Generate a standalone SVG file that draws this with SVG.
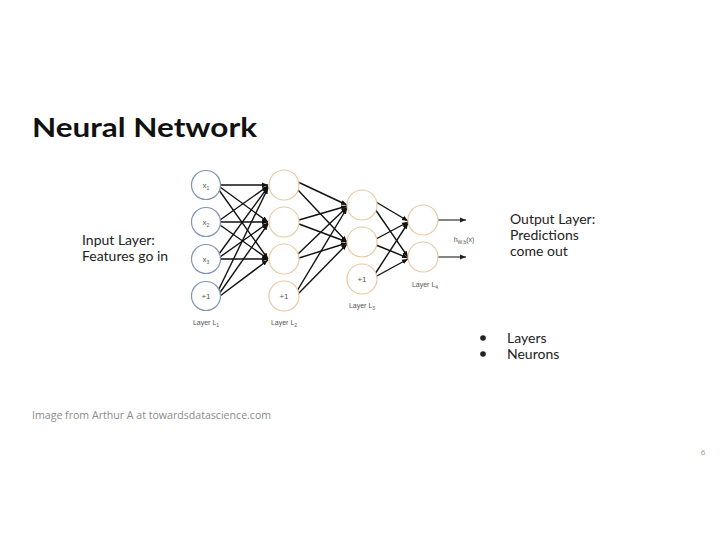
<svg xmlns="http://www.w3.org/2000/svg" width="720" height="540" viewBox="0 0 720 540">
<defs>
<marker id="ah" viewBox="0 0 10 10" refX="10" refY="5" markerWidth="6" markerHeight="6" orient="auto" markerUnits="userSpaceOnUse">
<path d="M0,1 L10,5 L0,9 z" fill="#111"/>
</marker>
<marker id="ao" viewBox="0 0 10 10" refX="10" refY="5" markerWidth="8" markerHeight="6" orient="auto" markerUnits="userSpaceOnUse">
<path d="M0,1 L10,5 L0,9 z" fill="#222"/>
</marker>
</defs>
<style>
.in{fill:#fff;stroke:#7f95b5;stroke-width:1.2}
.hn{fill:#fff;stroke:#e9c9a3;stroke-width:1.2}
.c{stroke:#111;stroke-width:1.4;fill:none;marker-end:url(#ah)}
.o{stroke:#333;stroke-width:1.2;fill:none;marker-end:url(#ao)}
.nl{font-family:"Liberation Sans",Arial,sans-serif;font-size:8px;fill:#555;text-anchor:middle}
.ll{font-family:"Liberation Sans",Arial,sans-serif;font-size:7px;fill:#555;text-anchor:middle}
.t{font-family:Lato,"Liberation Sans",sans-serif;font-size:14px;fill:#222}
</style>
<rect width="720" height="540" fill="#fff"/>
<text x="32" y="137" font-family="Lato,'Liberation Sans',sans-serif" font-weight="bold" font-size="27" fill="#111" textLength="225" lengthAdjust="spacingAndGlyphs">Neural Network</text>
<g id="connectors">
<line class="c" x1="220" y1="185" x2="268" y2="185"/>
<line class="c" x1="220" y1="187" x2="268" y2="222"/>
<line class="c" x1="219" y1="190" x2="268" y2="259"/>
<line class="c" x1="220" y1="220" x2="268" y2="186"/>
<line class="c" x1="220" y1="222" x2="268" y2="222"/>
<line class="c" x1="220" y1="225" x2="268" y2="259"/>
<line class="c" x1="219" y1="254" x2="268" y2="187"/>
<line class="c" x1="220" y1="257" x2="268" y2="223"/>
<line class="c" x1="220" y1="259" x2="268" y2="259"/>
<line class="c" x1="218" y1="291" x2="268" y2="188"/>
<line class="c" x1="219" y1="294" x2="268" y2="224"/>
<line class="c" x1="220" y1="296" x2="268" y2="260"/>
<line class="c" x1="298" y1="182" x2="347" y2="205"/>
<line class="c" x1="297" y1="189" x2="347" y2="242"/>
<line class="c" x1="299" y1="220" x2="347" y2="206"/>
<line class="c" x1="299" y1="224" x2="347" y2="242"/>
<line class="c" x1="298" y1="254" x2="347" y2="207"/>
<line class="c" x1="299" y1="258" x2="347" y2="243"/>
<line class="c" x1="297" y1="291" x2="347" y2="208"/>
<line class="c" x1="298" y1="294" x2="347" y2="244"/>
<line class="c" x1="376" y1="202" x2="408" y2="221"/>
<line class="c" x1="375" y1="209" x2="408" y2="257"/>
<line class="c" x1="376" y1="239" x2="408" y2="222"/>
<line class="c" x1="376" y1="245" x2="408" y2="258"/>
<line class="c" x1="375" y1="274" x2="408" y2="223"/>
<line class="c" x1="375" y1="277" x2="408" y2="259"/>
<line class="o" x1="438" y1="220" x2="466" y2="220"/>
<line class="o" x1="438" y1="257" x2="466" y2="257"/>
</g>
<g id="layer1">
<g id="x1"><circle class="in" cx="206" cy="185" r="14.5"/><text class="nl" x="206" y="188">x<tspan font-size="5" dy="2">1</tspan></text></g>
<g id="x2"><circle class="in" cx="206" cy="222" r="14.5"/><text class="nl" x="206" y="225">x<tspan font-size="5" dy="2">2</tspan></text></g>
<g id="x3"><circle class="in" cx="206" cy="259" r="14.5"/><text class="nl" x="206" y="262">x<tspan font-size="5" dy="2">3</tspan></text></g>
<g id="b1"><circle class="in" cx="206" cy="296" r="14.5"/><text class="nl" x="206" y="299">+1</text></g>
<text class="ll" x="206" y="325">Layer L<tspan font-size="5" dy="2">1</tspan></text>
</g>
<g id="layer2">
<g id="h21"><circle class="hn" cx="284" cy="185" r="15"/></g>
<g id="h22"><circle class="hn" cx="284" cy="222" r="15"/></g>
<g id="h23"><circle class="hn" cx="284" cy="259" r="15"/></g>
<g id="b2"><circle class="hn" cx="284" cy="296" r="15"/><text class="nl" x="284" y="299">+1</text></g>
<text class="ll" x="284" y="325">Layer L<tspan font-size="5" dy="2">2</tspan></text>
</g>
<g id="layer3">
<g id="h31"><circle class="hn" cx="362" cy="205" r="15"/></g>
<g id="h32"><circle class="hn" cx="362" cy="242" r="15"/></g>
<g id="b3"><circle class="hn" cx="362" cy="279" r="15"/><text class="nl" x="362" y="282">+1</text></g>
<text class="ll" x="362" y="308">Layer L<tspan font-size="5" dy="2">3</tspan></text>
</g>
<g id="layer4">
<g id="o1"><circle class="hn" cx="423" cy="220" r="15"/></g>
<g id="o2"><circle class="hn" cx="423" cy="257" r="15"/></g>
<text class="ll" x="425" y="287">Layer L<tspan font-size="5" dy="2">4</tspan></text>
</g>
<text class="ll" x="464" y="242">h<tspan font-size="5" dy="2">W,b</tspan><tspan dy="-2">(x)</tspan></text>
<g id="input-label">
<text class="t" x="82" y="245">Input Layer:</text>
<text class="t" x="82" y="261">Features go in</text>
</g>
<g id="output-label">
<text class="t" x="510" y="224">Output Layer:</text>
<text class="t" x="510" y="240">Predictions</text>
<text class="t" x="510" y="256">come out</text>
</g>
<g id="bullets">
<circle cx="483" cy="338" r="2.8" fill="#222"/>
<circle cx="483" cy="354" r="2.8" fill="#222"/>
<text class="t" x="507" y="343">Layers</text>
<text class="t" x="507" y="359">Neurons</text>
</g>
<text x="32" y="419" font-family="'Open Sans','Liberation Sans',sans-serif" font-size="10.6" fill="#8a8a8a">Image from Arthur A at towardsdatascience.com</text>
<text x="703" y="455" font-family="'Open Sans','Liberation Sans',sans-serif" font-size="8" fill="#999" text-anchor="middle">6</text>
</svg>
